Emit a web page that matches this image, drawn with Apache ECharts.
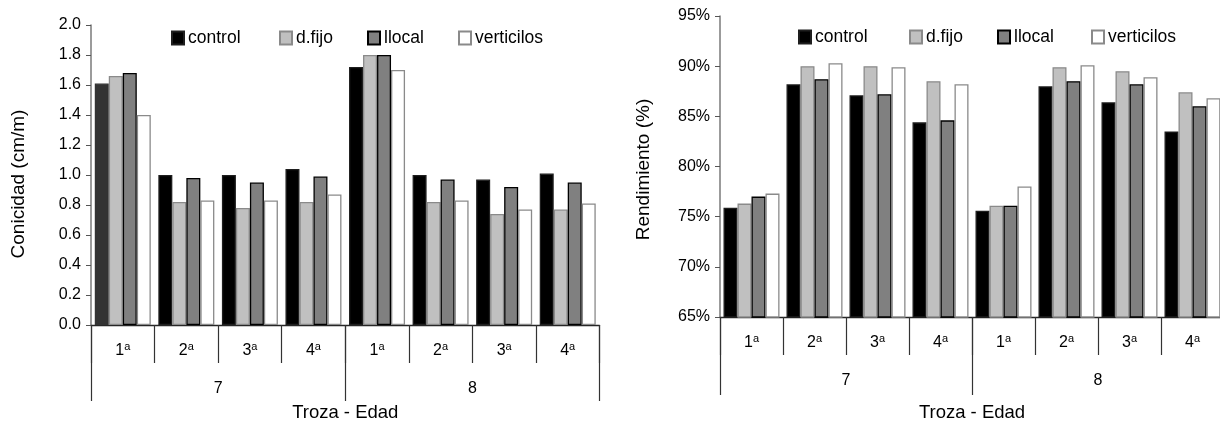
<!DOCTYPE html>
<html>
<head>
<meta charset="utf-8">
<script src="https://cdn.jsdelivr.net/npm/echarts@6/dist/echarts.min.js"></script>
<style>
  html, body { margin: 0; padding: 0; background: #fff; overflow: hidden; }
  #chart { width: 1224px; height: 421px; }
</style>
</head>
<body>
<div id="chart"></div>
<script>
// Categories: log position (troza) nested inside stand age (edad)
const trozas = ['1ª', '2ª', '3ª', '4ª', '1ª', '2ª', '3ª', '4ª'];
const edades = ['7', '8'];
const seriesNames = ['control', 'd.fijo', 'llocal', 'verticilos'];

// Conicidad (cm/m)
const conControl = [1.61, 1.00, 1.00, 1.04, 1.72, 1.00, 0.97, 1.01];
const conFijo    = [1.66, 0.82, 0.78, 0.82, 1.80, 0.82, 0.74, 0.77];
const conLlocal  = [1.68, 0.98, 0.95, 0.99, 1.80, 0.97, 0.92, 0.95];
const conVert    = [1.40, 0.83, 0.83, 0.87, 1.70, 0.83, 0.77, 0.81];

// Rendimiento (%)
const renControl = [75.9, 88.2, 87.1, 84.4, 75.6, 88.0, 86.4, 83.5];
const renFijo    = [76.3, 90.0, 90.0, 88.5, 76.1, 89.9, 89.5, 87.4];
const renLlocal  = [77.0, 88.7, 87.2, 84.6, 76.1, 88.5, 88.2, 86.0];
const renVert    = [77.3, 90.3, 89.9, 88.2, 78.0, 90.1, 88.9, 86.8];

// Value axis ranges
const conAxis = { min: 0, max: 2.0, step: 0.2 };
const renAxis = { min: 65, max: 95, step: 5 };

const FONT = '"Liberation Sans", Arial, Helvetica, sans-serif';

const barStyles = [
  { color: '#000000', borderColor: '#1e1e1e' },
  { color: '#c0c0c0', borderColor: '#8a8a8a' },
  { color: '#808080', borderColor: '#000000' },
  { color: '#ffffff', borderColor: '#8a8a8a' }
];

const chartData = [
  [conControl, conFijo, conLlocal, conVert],
  [renControl, renFijo, renLlocal, renVert]
];

// layout of the two panels
const grids = [
  { left: 91, top: 25, width: 508.5, height: 300, containLabel: false, outerBoundsMode: 'none' },
  { left: 720, top: 16, width: 504, height: 301, containLabel: false, outerBoundsMode: 'none' }
];
const titleGaps = [78, 86];
const legendLeft = [[171, 279, 367, 458], [798, 909, 997, 1091]];
const legendTop = [29, 28];

function trozaLabel(v) {
  return '{n|' + v.charAt(0) + '}{s|a}';
}

const xAxes = [];
grids.forEach(function (g, gi) {
  xAxes.push({
    type: 'category',
    gridIndex: gi,
    data: trozas,
    position: 'bottom',
    axisLine: { show: true, lineStyle: { color: '#262626', width: 1.3 } },
    axisTick: { show: true, interval: 0, length: 38, lineStyle: { color: '#333', width: 1.2 } },
    axisLabel: {
      interval: 0, margin: 16, color: '#000', formatter: trozaLabel,
      rich: {
        n: { fontSize: 16, fontFamily: FONT, color: '#000', lineHeight: 19 },
        s: { fontSize: 11, fontFamily: FONT, color: '#000', verticalAlign: 'top', lineHeight: 19 }
      }
    },
    name: 'Troza - Edad',
    nameLocation: 'middle',
    nameGap: titleGaps[gi],
    nameTextStyle: { fontSize: 18.5, fontFamily: FONT, color: '#000' }
  });
  xAxes.push({
    type: 'category',
    gridIndex: gi,
    data: edades,
    position: 'bottom',
    axisLine: { show: false },
    axisTick: { show: true, length: gi === 0 ? 76 : 78, lineStyle: { color: '#333', width: 1.2 } },
    axisLabel: { margin: 56, fontSize: 16, fontFamily: FONT, color: '#000' }
  });
});

function valueAxis(gi, range, name, nameGap, shift, fmt) {
  return {
    type: 'value',
    gridIndex: gi,
    min: range.min,
    max: range.max,
    interval: range.step,
    axisLine: { show: true, lineStyle: { color: '#7a7a7a', width: 1.5 } },
    axisTick: { show: true, length: 5, lineStyle: { color: '#555', width: 1 } },
    splitLine: { show: false },
    axisLabel: { fontSize: 16, fontFamily: FONT, color: '#000', margin: 10, formatter: fmt },
    name: name,
    nameLocation: 'middle',
    nameGap: nameGap,
    nameTextStyle: { fontSize: 19, fontFamily: FONT, color: '#000', padding: [0, shift, 0, 0] }
  };
}

const yAxes = [
  valueAxis(0, conAxis, 'Conicidad (cm/m)', 63, 18, function (v) { return v.toFixed(1); }),
  valueAxis(1, renAxis, 'Rendimiento (%)', 67, 6, function (v) { return Math.round(v) + '%'; })
];

const series = [];
chartData.forEach(function (panel, gi) {
  panel.forEach(function (values, si) {
    const data = values.map(function (v, i) {
      // the first control bar of the taper panel is drawn in dark grey
      if (gi === 0 && si === 0 && i === 0) {
        return { value: v, itemStyle: { color: '#333333', borderColor: '#333333' } };
      }
      return v;
    });
    series.push({
      type: 'bar',
      name: seriesNames[si],
      xAxisIndex: gi * 2,
      yAxisIndex: gi,
      data: data,
      barWidth: 14,
      barGap: '0%',
      itemStyle: {
        color: barStyles[si].color,
        borderColor: barStyles[si].borderColor,
        borderWidth: 1.3
      }
    });
  });
});

const legends = [];
legendLeft.forEach(function (row, gi) {
  row.forEach(function (x, si) {
    legends.push({
      data: [seriesNames[si]],
      left: x,
      top: legendTop[gi],
      padding: 0,
      icon: 'rect',
      itemWidth: 12,
      itemHeight: 13,
      itemGap: 0,
      selectedMode: false,
      textStyle: { fontSize: 17.5, fontFamily: FONT, color: '#000', padding: [0, 0, 0, -1] }
    });
  });
});

const chart = echarts.init(document.getElementById('chart'), null, { renderer: 'canvas' });
chart.setOption({
  animation: false,
  backgroundColor: '#ffffff',
  textStyle: { fontFamily: FONT, color: '#000' },
  grid: grids,
  xAxis: xAxes,
  yAxis: yAxes,
  legend: legends,
  series: series
});
</script>
</body>
</html>
